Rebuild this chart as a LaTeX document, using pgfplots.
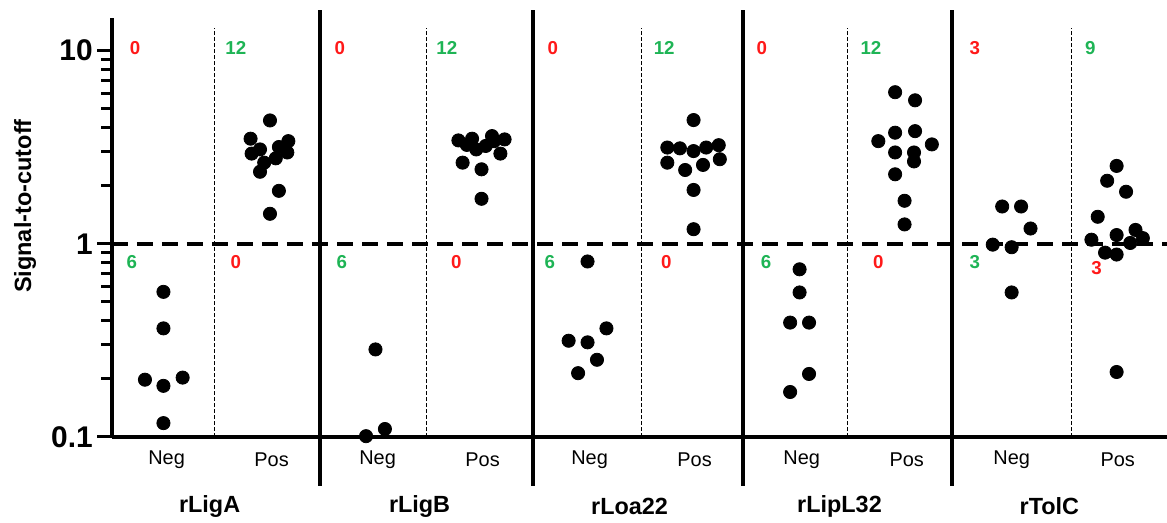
\documentclass[border=0pt]{standalone}
\usepackage{fontspec}
\setmainfont{Liberation Sans}
\usepackage{pgfplots}
\pgfplotsset{compat=1.18}
\definecolor{cntred}{RGB}{255,25,25}
\definecolor{cntgreen}{RGB}{30,180,85}

\begin{document}
\begin{tikzpicture}
\begin{axis}[
  name=ax,
  scale only axis,
  width=527.5bp, height=209.5bp,
  ymode=log,
  xmin=0, xmax=10.05,
  ymin=0.1, ymax=14.75,
  axis x line=bottom, axis y line=left,
  axis line style={line width=2.2bp, -},
  xtick=\empty, ytick=\empty,
  ylabel={Signal-to-cutoff},
  every axis y label/.style={at={(rel axis cs:0,0.551)}, xshift=-43.5bp, rotate=90, anchor=center,
    font=\bfseries\fontsize{11.8}{12}\selectfont},
  clip=false,
  mark size=3.3bp,
]
% y tick labels
\pgfplotsinvokeforeach{0.1,1,10}{
  \node[anchor=east, font=\bfseries\fontsize{15}{15}\selectfont, inner sep=0pt]
    at (axis cs:-0.18,#1) {#1};
}
% group separators
\pgfplotsinvokeforeach{1.98,4.01,6.01,8.0}{
  \draw[line width=2.25bp] (axis cs:#1,0.0561) -- (axis cs:#1,16.2);
}
% Neg / Pos dividers
\pgfplotsinvokeforeach{0.974,3.0,5.04,7.01,9.14}{
  \draw[line width=0.5bp, dash pattern=on 2bp off 1bp] (axis cs:#1,0.1) -- (axis cs:#1,13.1);
}
% cutoff
\draw[line width=1.75bp, dash pattern=on 8bp off 4.5bp] (axis cs:0,1) -- (axis cs:10.05,1);

% rLigA
\addplot[only marks, mark=*, black] table {
x y
0.49 0.564
0.49 0.365
0.314 0.198
0.49 0.184
0.673 0.203
0.49 0.118
};
\addplot[only marks, mark=*, black] table {
x y
1.505 4.35
1.32 3.50
1.41 3.08
1.33 2.93
1.68 3.40
1.59 3.17
1.67 2.97
1.56 2.77
1.45 2.63
1.41 2.36
1.59 1.88
1.505 1.43
};
% rLigB
\addplot[only marks, mark=*, black] table {
x y
2.51 0.284
2.42 0.101
2.60 0.110
};
\addplot[only marks, mark=*, black] table {
x y
3.30 3.43
3.43 3.50
3.62 3.61
3.74 3.47
3.38 3.25
3.47 3.08
3.56 3.21
3.64 3.40
3.70 2.93
3.34 2.63
3.52 2.43
3.52 1.71
};
% rLoa22
\addplot[only marks, mark=*, black] table {
x y
4.53 0.81
4.71 0.365
4.35 0.315
4.53 0.309
4.62 0.251
4.44 0.214
};
\addplot[only marks, mark=*, black] table {
x y
5.54 4.37
5.29 3.15
5.41 3.12
5.54 3.02
5.66 3.15
5.78 3.24
5.29 2.63
5.46 2.41
5.63 2.56
5.79 2.74
5.54 1.90
5.54 1.19
};
% rLipL32
\addplot[only marks, mark=*, black] table {
x y
6.55 0.738
6.55 0.560
6.46 0.391
6.64 0.391
6.64 0.212
6.46 0.171
};
\addplot[only marks, mark=*, black] table {
x y
7.46 6.09
7.65 5.53
7.46 3.76
7.65 3.83
7.30 3.40
7.81 3.27
7.46 2.97
7.64 2.97
7.64 2.67
7.46 2.29
7.55 1.67
7.55 1.26
};
% rTolC
\addplot[only marks, mark=*, black] table {
x y
8.48 1.56
8.66 1.56
8.75 1.20
8.39 0.99
8.57 0.96
8.57 0.56
};
\addplot[only marks, mark=*, black] table {
x y
9.57 2.53
9.48 2.12
9.66 1.86
9.39 1.38
9.75 1.18
9.57 1.11
9.82 1.07
9.33 1.05
9.70 1.01
9.46 0.90
9.57 0.88
9.57 0.217
};

% counts above / below the cutoff
\begin{scope}[every node/.style={font=\bfseries\fontsize{9.4}{10}\selectfont, anchor=center}]
\node[text=cntred]   at (axis cs:0.22,10.35) {0};
\node[text=cntgreen] at (axis cs:1.18,10.35) {12};
\node[text=cntgreen] at (axis cs:0.19,0.80) {6};
\node[text=cntred]   at (axis cs:1.18,0.80) {0};
\node[text=cntred]   at (axis cs:2.17,10.35) {0};
\node[text=cntgreen] at (axis cs:3.19,10.35) {12};
\node[text=cntgreen] at (axis cs:2.19,0.80) {6};
\node[text=cntred]   at (axis cs:3.28,0.80) {0};
\node[text=cntred]   at (axis cs:4.20,10.35) {0};
\node[text=cntgreen] at (axis cs:5.26,10.35) {12};
\node[text=cntgreen] at (axis cs:4.17,0.80) {6};
\node[text=cntred]   at (axis cs:5.28,0.80) {0};
\node[text=cntred]   at (axis cs:6.19,10.35) {0};
\node[text=cntgreen] at (axis cs:7.23,10.35) {12};
\node[text=cntgreen] at (axis cs:6.23,0.80) {6};
\node[text=cntred]   at (axis cs:7.30,0.80) {0};
\node[text=cntred]   at (axis cs:8.22,10.35) {3};
\node[text=cntgreen] at (axis cs:9.32,10.35) {9};
\node[text=cntgreen] at (axis cs:8.22,0.80) {3};
\node[text=cntred]   at (axis cs:9.38,0.753) {3};
\end{scope}

% category labels
\begin{scope}[every node/.style={font=\fontsize{10}{12}\selectfont, anchor=center, yshift=-11.5bp}]
\node at (axis cs:0.52,0.1) {Neg};
\node at (axis cs:1.52,0.1) {Pos};
\node at (axis cs:2.53,0.1) {Neg};
\node at (axis cs:3.53,0.1) {Pos};
\node at (axis cs:4.55,0.1) {Neg};
\node at (axis cs:5.55,0.1) {Pos};
\node at (axis cs:6.57,0.1) {Neg};
\node at (axis cs:7.57,0.1) {Pos};
\node at (axis cs:8.57,0.1) {Neg};
\node at (axis cs:9.58,0.1) {Pos};
\end{scope}
\begin{scope}[every node/.style={font=\bfseries\fontsize{11.75}{12}\selectfont, anchor=center, yshift=-34.5bp}]
\node at (axis cs:0.93,0.1) {rLigA};
\node at (axis cs:2.93,0.1) {rLigB};
\node at (axis cs:4.93,0.1) {rLoa22};
\node at (axis cs:6.93,0.1) {rLipL32};
\node at (axis cs:8.93,0.1) {rTolC};
\end{scope}
\end{axis}
% outward y ticks on the log scale: 209.5bp spans log10(0.1)..log10(14.75)
\foreach \v/\len in {0.1/7.5,0.2/5.5,0.3/5.5,0.4/5.5,0.5/5.5,0.6/5.5,0.7/5.5,0.8/5.5,0.9/5.5,
                     1/7.5,2/5.5,3/5.5,4/5.5,5/5.5,6/5.5,7/5.5,8/5.5,9/5.5,10/7.5}{
  \pgfmathsetmacro\yy{96.597*(log10(\v)+1)}
  \draw[line width=1.5bp, black] ([yshift=\yy bp]ax.south west) -- ++(-\len bp,0);
}
\pgfresetboundingbox
\path[use as bounding box] ([xshift=-56bp,yshift=-43bp]ax.south west) rectangle ([yshift=9bp]ax.north east);
\end{tikzpicture}
\end{document}
